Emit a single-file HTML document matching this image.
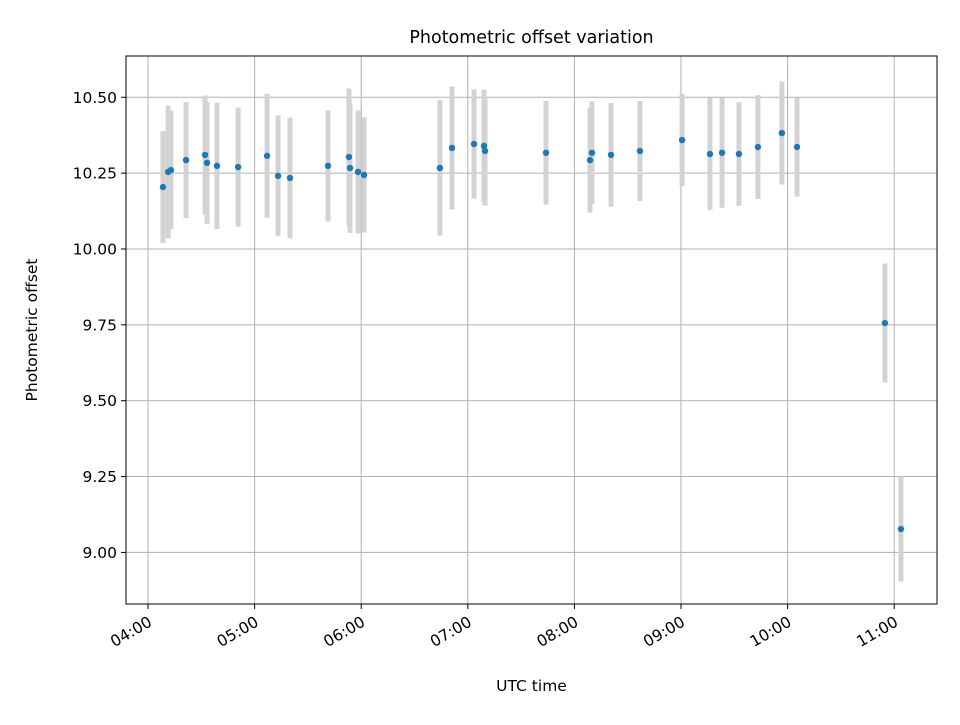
<!DOCTYPE html>
<html><head><meta charset="utf-8"><style>
body{margin:0;background:#fff;}
svg text{font-family:"DejaVu Sans","Liberation Sans",sans-serif;fill:#000;}
</style></head><body>
<svg id="chart" width="960" height="720" xmlns="http://www.w3.org/2000/svg">
<rect width="960" height="720" fill="#fff"/>
<g id="grid"></g><g id="errs"></g><g id="pts"></g><g id="axes"></g>
<text x="531.5" y="43" font-size="17.5" text-anchor="middle">Photometric offset variation</text>
<text x="531.5" y="691" font-size="15.5" text-anchor="middle">UTC time</text>
<text transform="translate(37,330) rotate(-90)" font-size="15.5" text-anchor="middle">Photometric offset</text>
</svg>
<script>
const timesMin=[248.4,251.3,252.9,261.4,272.1,273.2,278.8,290.7,307.0,313.2,319.9,341.3,353.1,353.7,358.2,361.6,404.3,411.1,423.5,429.1,429.7,464.0,488.8,489.9,500.6,516.9,540.6,556.3,563.1,572.6,583.3,596.8,605.3,654.8,663.8];
const offsets=[10.204,10.254,10.260,10.293,10.310,10.284,10.274,10.270,10.307,10.241,10.234,10.274,10.303,10.267,10.254,10.244,10.267,10.333,10.346,10.340,10.323,10.317,10.293,10.317,10.310,10.323,10.359,10.313,10.317,10.313,10.336,10.382,10.336,9.756,9.077];
const errors=[0.185,0.219,0.195,0.191,0.196,0.201,0.208,0.196,0.204,0.199,0.199,0.183,0.226,0.214,0.203,0.190,0.223,0.203,0.180,0.185,0.180,0.171,0.173,0.170,0.171,0.165,0.152,0.185,0.181,0.171,0.171,0.170,0.163,0.196,0.173];
const xTickMin=[240,300,360,420,480,540,600,660];
const xTickLabels=["04:00","05:00","06:00","07:00","08:00","09:00","10:00","11:00"];
const yTicks=[9.0,9.25,9.5,9.75,10.0,10.25,10.5];
const yTickLabels=["9.00","9.25","9.50","9.75","10.00","10.25","10.50"];
const L=126,R=937,T=56,B=604;
const xMin=227.6,xMax=684.1,yMin=8.830,yMax=10.636;
const xs=m=>L+(m-xMin)/(xMax-xMin)*(R-L);
const ys=v=>B-(v-yMin)/(yMax-yMin)*(B-T);
const NS="http://www.w3.org/2000/svg";
function mk(tag,attrs,parent){const e=document.createElementNS(NS,tag);for(const k in attrs)e.setAttribute(k,attrs[k]);document.getElementById(parent).appendChild(e);return e;}
xTickMin.forEach((m,i)=>{const x=xs(m);
 const g=mk('line',{x1:x,x2:x,y1:T,y2:B,stroke:'#b0b0b0','stroke-width':1},'grid');
 
 
 mk('line',{x1:x,x2:x,y1:B,y2:B+5,stroke:'#000','stroke-width':1},'axes');
 const t=mk('text',{x:0,y:0,'font-size':15.5,'text-anchor':'end',transform:`translate(${x+5},${B+21}) rotate(-30)`},'axes');
 t.textContent=xTickLabels[i];
 
 
});
yTicks.forEach((v,i)=>{const y=ys(v);
 const g=mk('line',{x1:L,x2:R,y1:y,y2:y,stroke:'#b0b0b0','stroke-width':1},'grid');
 
 
 mk('line',{x1:L-5,x2:L,y1:y,y2:y,stroke:'#000','stroke-width':1},'axes');
 const t=mk('text',{x:L-9,y:y+5.5,'font-size':15.5,'text-anchor':'end'},'axes');
 t.textContent=yTickLabels[i];
 
 
});
const fr=mk('rect',{x:L,y:T,width:R-L,height:B-T,fill:'none',stroke:'#000','stroke-width':1},'axes');


timesMin.forEach((m,i)=>{const x=xs(m);
 const e=mk('line',{x1:x,x2:x,y1:ys(offsets[i]+errors[i]),y2:ys(offsets[i]-errors[i]),stroke:'#d3d3d3','stroke-width':5},'errs');
 
 
 const c=mk('circle',{cx:x,cy:ys(offsets[i]),r:3.2,fill:'#1f77b4'},'pts');
 
 
});
</script>
</body></html>
